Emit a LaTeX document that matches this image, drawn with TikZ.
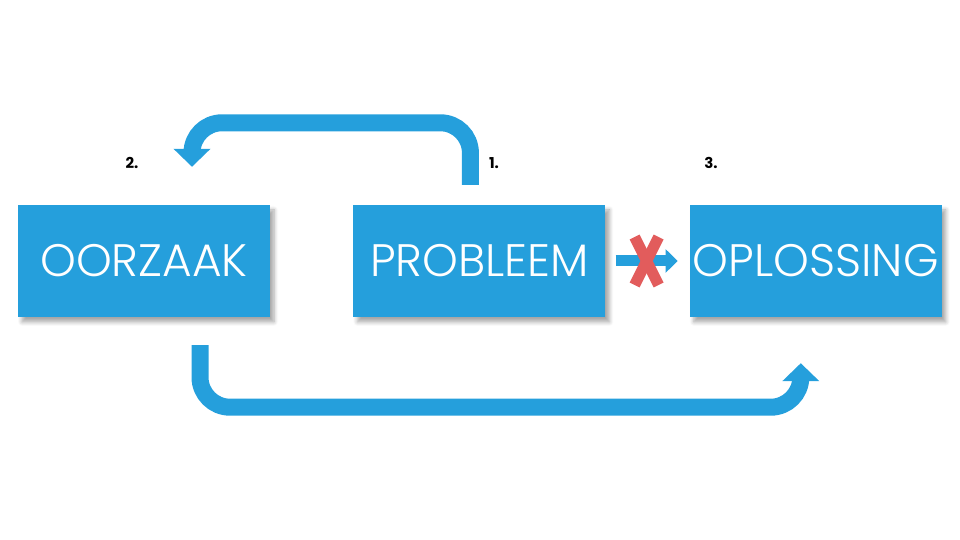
\documentclass[tikz,border=0pt]{standalone}
\usepackage{fontspec}
\setmainfont{Poppins}[UprightFont=* Light,BoldFont=* Bold]
\usepackage{tikz}
\usetikzlibrary{arrows.meta,calc,positioning,shadows.blur}
\definecolor{boxblue}{HTML}{259FDC}
\definecolor{crossred}{HTML}{E25C5C}

\begin{document}
\begin{tikzpicture}[x=1pt,y=1pt,
  stepbox/.style={fill=boxblue,minimum width=252pt,minimum height=112pt,inner sep=0pt,
    text=white,font=\fontsize{45.5}{45.5}\selectfont,
    blur shadow={shadow xshift=4pt,shadow yshift=-5pt,shadow blur steps=6,shadow opacity=35,shadow blur radius=4pt}},
  bigarrow/.style={boxblue,line width=17pt,rounded corners=30pt,
    -{Triangle[width=36pt,length=18pt]}},
  smallarrow/.style={boxblue,line width=11pt,-{Triangle[width=23pt,length=12pt]}},
  numlabel/.style={font=\fontsize{15}{15}\selectfont\bfseries}]
  \useasboundingbox (0,0) rectangle (960,540);
  \node[stepbox] (oorzaak) at (144,279) {OORZAAK};
  \node[stepbox,right=83pt of oorzaak] (probleem) {PROBLEEM};
  \node[stepbox,right=84pt of probleem] (oplossing) {OPLOSSING};
  % volgorde
  \node[numlabel] (n1) at (494,377) {1.};
  \node[numlabel] (n2) at (132,377) {2.};
  \node[numlabel] (n3) at (711,377) {3.};
  % pijlen
  \draw[bigarrow] ([shift={(-9pt,20pt)}]probleem.north) -- ++(0,62)
    -| ([shift={(48pt,38pt)}]oorzaak.north);
  \draw[bigarrow] ([shift={(56pt,-28pt)}]oorzaak.south) -- ++(0,-62)
    -| ([shift={(-15pt,-46pt)}]oplossing.south);
  \draw[smallarrow] ([xshift=10pt]probleem.east) -- ([xshift=-12pt]oplossing.west)
    coordinate[pos=0.5] (kruis);
  \draw[crossred,line width=11pt] ($(kruis)+(-12,24)$) -- ($(kruis)+(12,-24)$);
  \draw[crossred,line width=11pt] ($(kruis)+(12,24)$) -- ($(kruis)+(-12,-24)$);
\end{tikzpicture}
\end{document}
